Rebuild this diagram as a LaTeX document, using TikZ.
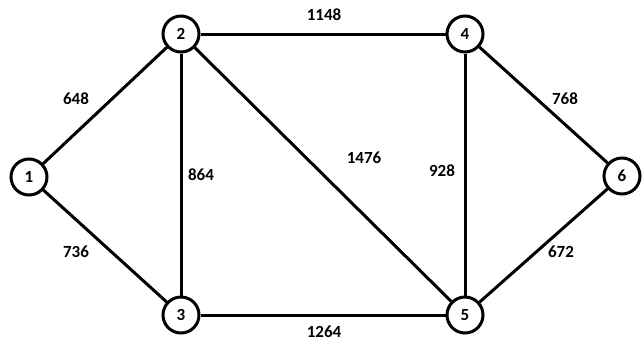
\documentclass[tikz,border=0pt]{standalone}
\usepackage{fontspec}
\setmainfont{Carlito}
\begin{document}
\begin{tikzpicture}[x=1pt,y=-1pt,
  vtx/.style={circle,draw,line width=3pt,minimum size=36pt,inner sep=0pt,fill=white,font=\fontsize{17}{17}\selectfont\bfseries},
  edge/.style={line width=3pt},
  wt/.style={font=\fontsize{17}{17}\selectfont\bfseries,inner sep=0pt}]
\useasboundingbox (0,0) rectangle (643,341);
\node[vtx] (n1) at (29,177) {1};
\node[vtx] (n2) at (181,34) {2};
\node[vtx] (n3) at (181,315) {3};
\node[vtx] (n4) at (465,34) {4};
\node[vtx] (n5) at (465,315) {5};
\node[vtx] (n6) at (622,176) {6};
\draw[edge] (n1) -- (n2);
\draw[edge] (n1) -- (n3);
\draw[edge] (n2) -- (n4);
\draw[edge] (n2) -- (n3);
\draw[edge] (n2) -- (n5);
\draw[edge] (n3) -- (n5);
\draw[edge] (n4) -- (n5);
\draw[edge] (n4) -- (n6);
\draw[edge] (n5) -- (n6);
\node[wt] (w12) at (76,99) {648};
\node[wt] (w13) at (76,252) {736};
\node[wt] (w24) at (324,15) {1148};
\node[wt] (w23) at (201,175) {864};
\node[wt] (w25) at (364,158) {1476};
\node[wt] (w45) at (442,171) {928};
\node[wt] (w46) at (565,99) {768};
\node[wt] (w56) at (561,252) {672};
\node[wt] (w35) at (324,332) {1264};
\end{tikzpicture}
\end{document}
